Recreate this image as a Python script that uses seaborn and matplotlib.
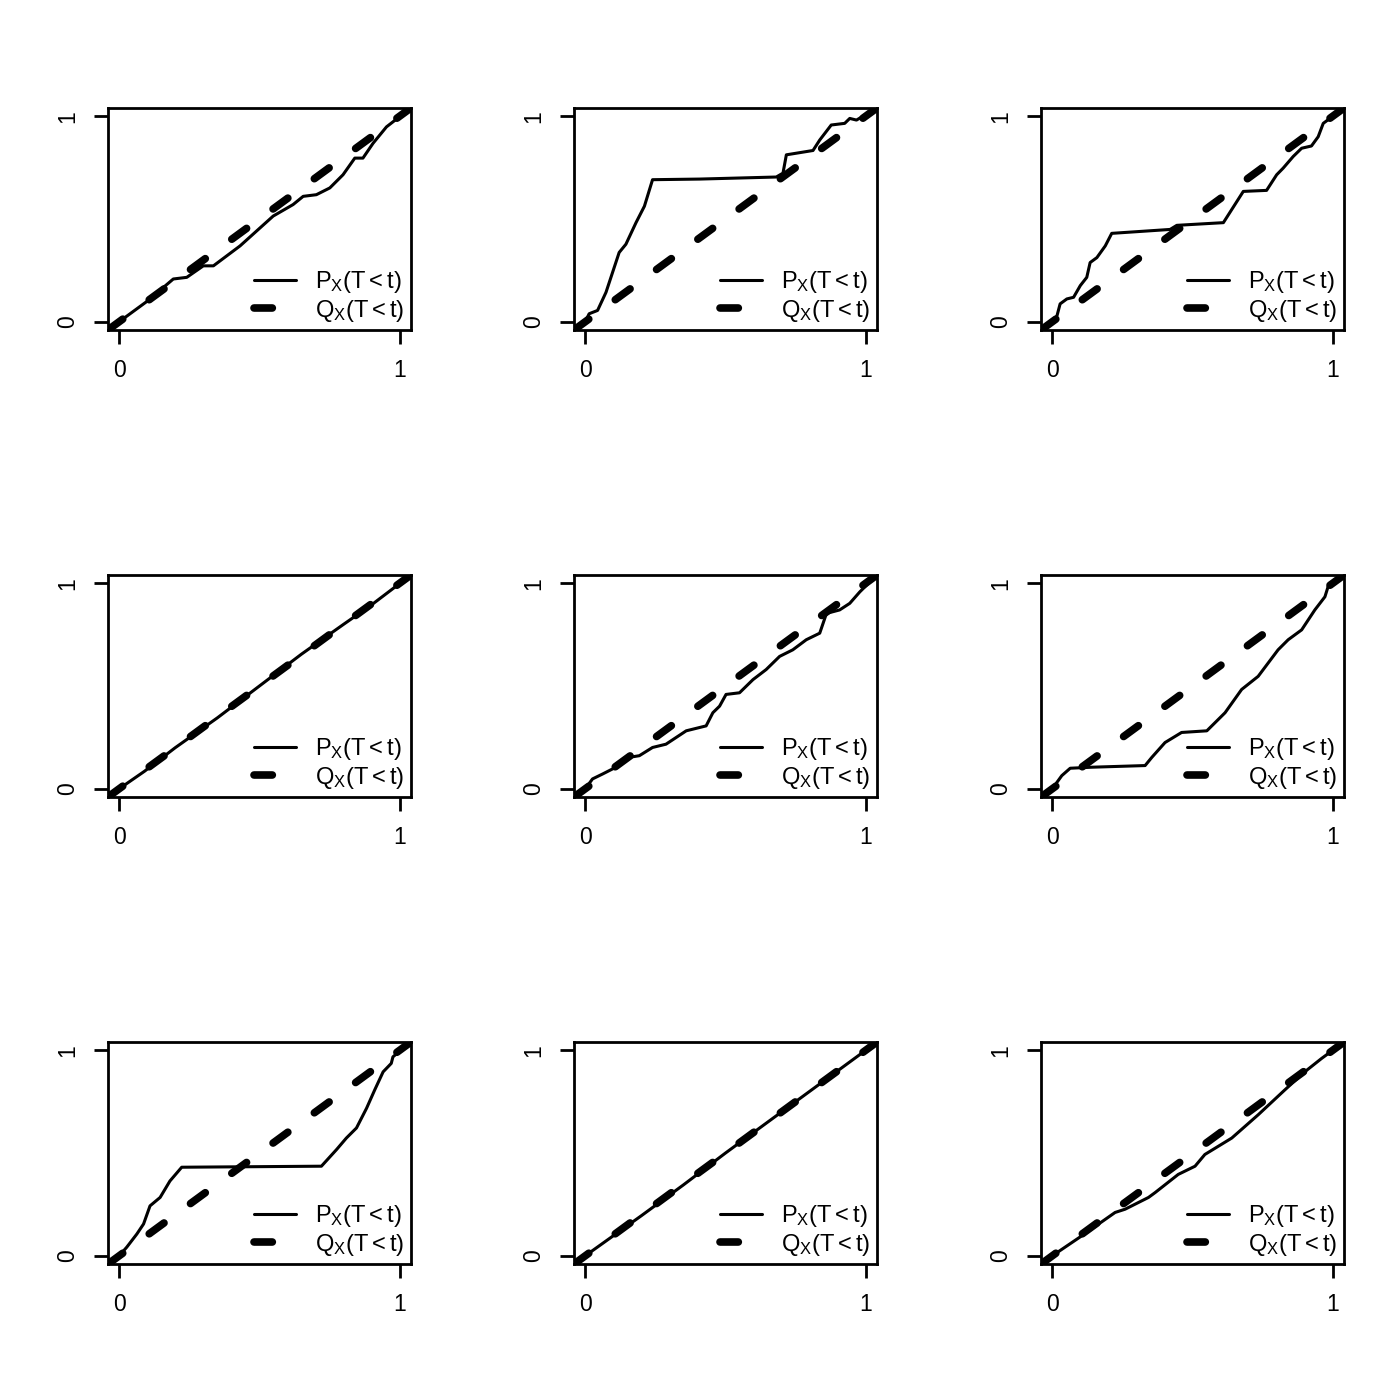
import matplotlib
matplotlib.use("Agg")
import matplotlib.pyplot as plt
import numpy as np
import seaborn as sns

# solid curves P_X(T<t), one pair of lists per panel
p1_x = [-0.04, 0.0, 0.10, 0.193, 0.241, 0.30, 0.336, 0.431, 0.549, 0.62, 0.656, 0.703, 0.751, 0.798, 0.84, 0.869, 0.905, 0.953, 1.04]
p1_y = [-0.04, 0.0, 0.10, 0.208, 0.216, 0.272, 0.272, 0.369, 0.514, 0.57, 0.61, 0.618, 0.651, 0.715, 0.796, 0.796, 0.868, 0.948, 1.04]

p2_x = [-0.04, 0.0, 0.014, 0.044, 0.074, 0.121, 0.145, 0.181, 0.211, 0.24, 0.407, 0.681, 0.705, 0.717, 0.812, 0.836, 0.877, 0.925, 0.943, 0.967, 1.04]
p2_y = [-0.04, 0.0, 0.039, 0.055, 0.143, 0.337, 0.377, 0.482, 0.562, 0.691, 0.694, 0.704, 0.723, 0.812, 0.833, 0.884, 0.957, 0.965, 0.989, 0.981, 1.04]

p3_x = [-0.04, 0.0, 0.017, 0.028, 0.052, 0.076, 0.10, 0.123, 0.135, 0.159, 0.189, 0.212, 0.42, 0.444, 0.61, 0.681, 0.764, 0.80, 0.823, 0.859, 0.889, 0.924, 0.948, 0.966, 1.04]
p3_y = [-0.04, 0.0, 0.03, 0.087, 0.111, 0.119, 0.176, 0.216, 0.288, 0.312, 0.369, 0.43, 0.449, 0.469, 0.482, 0.634, 0.639, 0.715, 0.747, 0.804, 0.844, 0.855, 0.90, 0.965, 1.04]

p4_x = [-0.04, 0.0, 0.09, 0.20, 0.35, 0.50, 0.65, 0.80, 0.90, 1.04]
p4_y = [-0.04, 0.0, 0.085, 0.20, 0.345, 0.50, 0.655, 0.80, 0.895, 1.04]

p5_x = [-0.04, 0.0, 0.026, 0.062, 0.098, 0.157, 0.193, 0.24, 0.288, 0.36, 0.431, 0.455, 0.479, 0.502, 0.55, 0.598, 0.645, 0.693, 0.74, 0.788, 0.836, 0.86, 0.907, 0.943, 0.979, 1.04]
p5_y = [-0.04, 0.0, 0.048, 0.072, 0.097, 0.153, 0.161, 0.201, 0.217, 0.282, 0.306, 0.37, 0.402, 0.459, 0.467, 0.531, 0.58, 0.644, 0.676, 0.725, 0.757, 0.853, 0.87, 0.902, 0.958, 1.04]

p6_x = [-0.04, 0.0, 0.034, 0.064, 0.141, 0.331, 0.355, 0.402, 0.461, 0.551, 0.616, 0.675, 0.734, 0.805, 0.841, 0.889, 0.936, 0.972, 0.983, 1.04]
p6_y = [-0.04, 0.0, 0.064, 0.10, 0.105, 0.113, 0.153, 0.225, 0.274, 0.282, 0.37, 0.483, 0.547, 0.676, 0.725, 0.773, 0.87, 0.934, 0.982, 1.04]

p7_x = [-0.04, 0.0, 0.027, 0.063, 0.087, 0.11, 0.146, 0.181, 0.223, 0.721, 0.775, 0.81, 0.846, 0.882, 0.911, 0.941, 0.97, 0.976, 1.04]
p7_y = [-0.04, 0.0, 0.042, 0.106, 0.155, 0.243, 0.284, 0.364, 0.431, 0.436, 0.517, 0.573, 0.622, 0.718, 0.807, 0.895, 0.936, 0.968, 1.04]

p8_x = [-0.04, 0.0, 0.20, 0.35, 0.50, 0.65, 0.80, 1.04]
p8_y = [-0.04, 0.0, 0.195, 0.345, 0.50, 0.65, 0.80, 1.04]

p9_x = [-0.04, 0.0, 0.106, 0.224, 0.26, 0.343, 0.367, 0.449, 0.509, 0.544, 0.64, 0.734, 0.829, 0.90, 0.96, 1.04]
p9_y = [-0.04, 0.0, 0.098, 0.211, 0.227, 0.284, 0.308, 0.396, 0.436, 0.493, 0.573, 0.686, 0.807, 0.895, 0.96, 1.04]

panels_x = [p1_x, p2_x, p3_x, p4_x, p5_x, p6_x, p7_x, p8_x, p9_x]
panels_y = [p1_y, p2_y, p3_y, p4_y, p5_y, p6_y, p7_y, p8_y, p9_y]

tick_vals = [0, 1]
tick_labels = ["0", "1"]
label_p = r"$\mathrm{P_X(T<t)}$"
label_q = r"$\mathrm{Q_X(T<t)}$"

sns.set_style("ticks")
plt.rcParams["font.family"] = ["Liberation Sans", "DejaVu Sans"]
plt.rcParams["mathtext.fontset"] = "custom"
plt.rcParams["mathtext.rm"] = "Liberation Sans"
plt.rcParams["mathtext.it"] = "Liberation Sans"
plt.rcParams["text.color"] = "black"
plt.rcParams["xtick.color"] = "black"
plt.rcParams["ytick.color"] = "black"
plt.rcParams["axes.edgecolor"] = "black"

fig = plt.figure(figsize=(14, 14), dpi=100)

lefts = [0.0771, 0.41, 0.7436]
bottoms = [0.7643, 0.4307, 0.0971]
w, h = 0.2164, 0.1586

for i in range(9):
    r, c = divmod(i, 3)
    ax = fig.add_axes([lefts[c], bottoms[r], w, h])

    sns.lineplot(x=panels_x[i], y=panels_y[i], ax=ax, color="black",
                 linewidth=2.2, sort=False, estimator=None, label=label_p)
    diag = ax.axline((0, 0), slope=1, color="black", linewidth=5.5,
                     dash_capstyle="round", label=label_q)
    diag.set_dashes((2.4, 4.3))

    ax.set_xlim(-0.04, 1.04)
    ax.set_ylim(-0.04, 1.04)
    ax.set_xticks(tick_vals)
    ax.set_xticklabels(tick_labels)
    ax.set_yticks(tick_vals)
    ax.set_yticklabels(tick_labels, rotation=90, va="center")
    ax.tick_params(axis="both", direction="out", length=10, width=2,
                   labelsize=16.5, color="black", labelcolor="black")
    ax.tick_params(axis="x", pad=11)
    ax.tick_params(axis="y", pad=11)
    for sp in ax.spines.values():
        sp.set_linewidth(2)
        sp.set_color("black")
        sp.set_visible(True)

    ax.legend(loc="lower right", frameon=False, fontsize=17,
              handlelength=1.8, handletextpad=0.8, labelspacing=0.12,
              borderaxespad=0.15, borderpad=0.12)

fig.savefig("out.png", dpi=100)
